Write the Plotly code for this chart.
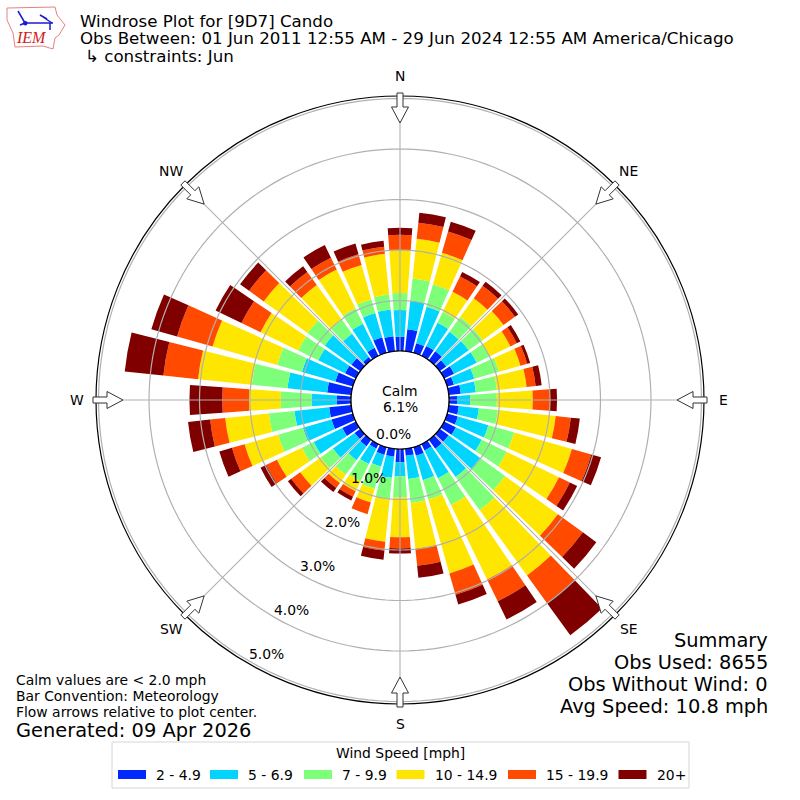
import numpy as np
import plotly.graph_objects as go

directions = list(range(0, 360, 10))
speed_labels = ["2 - 4.9", "5 - 6.9", "7 - 9.9", "10 - 14.9", "15 - 19.9", "20+"]
speed_colors = ["#0028ff", "#00d4ff", "#7dff7a", "#ffe600", "#ff4a00", "#800000"]

# percent of obs per direction, one list per speed bin
speed_2_5 = [.28, .44, .20, .22, .22, .16, .22, .14, .24, .16, .20, .22, .26, .22, .22, .14, .18, .14,
             .26, .16, .16, .10, .16, .14, .30, .44, .44, .28, .48, .36, .24, .22, .08, .18, .32, .30]
speed_5_7 = [.53, .57, .75, .51, .48, .55, .50, .42, .30, .26, .40, .63, .57, .77, .69, .61, .50, .46,
             .28, .42, .24, .34, .34, .53, .63, .59, .69, .50, .79, .69, .59, .65, .57, .53, .50, .53]
speed_7_10 = [.34, .44, .46, .24, .36, .34, .28, .51, .42, .53, .38, .53, .55, .61, .81, .59, .40, .48,
              .42, .42, .46, .38, .36, .30, .26, .51, .51, .61, .71, .51, .44, .42, .34, .34, .28, .30]
speed_10_15 = [.85, .79, .65, .44, .46, .51, .46, .44, .59, .71, 1.15, 1.19, 1.15, 1.29, 1.60, 1.64, 1.52, .91,
               .79, .85, .28, .22, .20, .50, .55, .69, .87, .63, 1.07, 1.33, .83, 1.07, .85, .85, .71, .81]
speed_15_20 = [.30, .32, .44, .34, .30, .28, .14, .14, .18, .34, .30, .40, .24, .61, .67, .48, .44, .34,
               .22, .18, .24, .12, .12, .22, .24, .26, .30, .53, .69, .73, .42, .36, .32, .26, .22, .14]
speed_20 = [.14, .20, .20, .10, .10, .08, .08, .06, .12, .14, .18, .20, .16, .33, .79, .40, .20, .24,
            .10, .18, .00, .08, .10, .08, .12, .26, .44, .65, .77, .53, .57, .22, .14, .28, .22, .12]
speed_series = [speed_2_5, speed_5_7, speed_7_10, speed_10_15, speed_15_20, speed_20]

radial_ticks = [0, 1, 2, 3, 4, 5]
radial_labels = ["0.0%", "1.0%", "2.0%", "3.0%", "4.0%", "5.0%"]
compass_angles = [0, 45, 90, 135, 180, 225, 270, 315]
compass_labels = ["N", "NE", "E", "SE", "S", "SW", "W", "NW"]
rmax = 5.05

FONT = "DejaVu Sans"


def px(x):
    return x / 800


def py(y):
    return 1 - y / 800


def note(text, x, y, size, anchor="left", color="black", family=FONT):
    # annotations carry about 2px of padding, take it back out
    if anchor == "left":
        x -= 2
    elif anchor == "right":
        x += 2
    return dict(text=text, x=px(x), y=py(y), xref="paper", yref="paper", showarrow=False,
                xanchor=anchor, yanchor="middle", font=dict(family=family, size=size, color=color))


fig = go.Figure()

for label, color, vals in zip(speed_labels, speed_colors, speed_series):
    fig.add_trace(go.Barpolar(r=vals, theta=directions, width=8.2, name=label,
                              marker=dict(color=color, line=dict(width=0)),
                              showlegend=False, hoverinfo="skip"))

# grid goes over the bars like the original, polar grid itself is always underneath
ring_theta = np.arange(0, 361, 2)
for t in radial_ticks:
    fig.add_trace(go.Scatterpolar(r=[t] * len(ring_theta), theta=ring_theta, mode="lines",
                                  line=dict(color="black" if t == 0 else "#b0b0b0", width=1.2),
                                  showlegend=False, hoverinfo="skip", cliponaxis=False))
for a in compass_angles:
    fig.add_trace(go.Scatterpolar(r=[0, rmax], theta=[a, a], mode="lines",
                                  line=dict(color="#b0b0b0", width=1.1),
                                  showlegend=False, hoverinfo="skip"))

shapes = []
annotations = []

# flow arrows on the rim, outlined and pointing at the center
arrow = [(-3, 307), (3, 307), (3, 293), (8.5, 293), (0, 277), (-8.5, 293), (-3, 293)]
for a, lab in zip(compass_angles, compass_labels):
    rad = np.radians(a)
    pts = []
    for w, r in arrow:
        x = 400 + r * np.sin(rad) + w * np.cos(rad)
        y = 400 - r * np.cos(rad) + w * np.sin(rad)
        pts.append(f"{px(x):.5f},{py(y):.5f}")
    shapes.append(dict(type="path", xref="paper", yref="paper", layer="above",
                       path="M" + " L".join(pts) + " Z", fillcolor="white",
                       line=dict(color="#333333", width=1)))
    annotations.append(note(lab, 400 + 323.5 * np.sin(rad), 400 - 323.5 * np.cos(rad), 13.9, "center"))

# radial labels sit off the ring, so place them by hand
for i, lab in enumerate(radial_labels):
    annotations.append(note(lab, 393.5 - 25.4 * i, 433.5 + 44 * i, 13.9, "center"))

annotations += [
    note("Calm", 400, 391, 13.9, "center"),
    note("6.1%", 400, 407, 13.9, "center"),
    note("Windrose Plot for [9D7] Cando", 80, 21.5, 16.67),
    note("Obs Between: 01 Jun 2011 12:55 AM - 29 Jun 2024 12:55 AM America/Chicago", 80, 38.5, 16.67),
    note("↳ constraints: Jun", 85, 56, 16.67),
    note("Summary", 768, 640, 19.4, "right"),
    note("Obs Used: 8655", 768, 662, 19.4, "right"),
    note("Obs Without Wind: 0", 768, 684, 19.4, "right"),
    note("Avg Speed: 10.8 mph", 768, 706, 19.4, "right"),
    note("Calm values are &lt; 2.0 mph", 16, 680, 13.9),
    note("Bar Convention: Meteorology", 16, 696, 13.9),
    note("Flow arrows relative to plot center.", 16, 712, 13.9),
    note("Generated: 09 Apr 2026", 16, 730, 19.4),
    note("Wind Speed [mph]", 400, 753, 13.9, "center"),
]

# legend box, matplotlib style wide swatches
shapes.append(dict(type="rect", xref="paper", yref="paper", layer="above",
                   x0=px(112), x1=px(689), y0=py(742), y1=py(788),
                   fillcolor="white", line=dict(color="#d6d6d6", width=1)))
swatch_left = [118, 210, 304, 396.5, 508, 618.5]
for x0, color, label in zip(swatch_left, speed_colors, speed_labels):
    shapes.append(dict(type="rect", xref="paper", yref="paper", layer="above",
                       x0=px(x0), x1=px(x0 + 28), y0=py(770), y1=py(779),
                       fillcolor=color, line=dict(width=0)))
    annotations.append(note(label, x0 + 38, 774.5, 13.9))

# IEM logo, rough outline of Iowa with the wind barb
iowa = [(7, 8), (55, 7), (57, 15), (65, 25), (59, 35), (55, 38), (53, 49), (43, 46), (15, 47), (13, 33), (7, 20)]
shapes.append(dict(type="path", xref="paper", yref="paper", layer="above",
                   path="M" + " L".join(f"{px(x):.5f},{py(y):.5f}" for x, y in iowa) + " Z",
                   fillcolor="white", line=dict(color="#e88080", width=1)))
barb = [[(25, 23), (53, 23)], [(25, 23), (18, 11)], [(52, 23), (40, 15), (47, 19)], [(50, 23), (50, 30)], [(25, 23), (20, 25)]]
for seg in barb:
    shapes.append(dict(type="path", xref="paper", yref="paper", layer="above",
                       path="M" + " L".join(f"{px(x):.5f},{py(y):.5f}" for x, y in seg),
                       line=dict(color="#1a1ad0", width=1.5)))
shapes.append(dict(type="circle", xref="paper", yref="paper", layer="above",
                   x0=px(23), x1=px(27.5), y0=py(21), y1=py(25.5),
                   fillcolor="#1a1ad0", line=dict(width=0)))
annotations.append(note("<i>IEM</i>", 31, 38, 16, "center", "#d02020", "Liberation Serif"))

fig.update_layout(
    width=800,
    height=800,
    margin=dict(l=0, r=0, t=0, b=0),
    paper_bgcolor="white",
    font=dict(family=FONT, size=14, color="black"),
    showlegend=False,
    hovermode=False,
    shapes=shapes,
    annotations=annotations,
    polar=dict(
        domain=dict(x=[96 / 800, 704 / 800], y=[96 / 800, 704 / 800]),
        bgcolor="white",
        hole=49 / 304,
        barmode="stack",
        radialaxis=dict(range=[0, rmax], tickvals=radial_ticks, showticklabels=False, ticks="",
                        showline=False, showgrid=False),
        angularaxis=dict(rotation=90, direction="clockwise", thetaunit="degrees",
                         tickmode="array", tickvals=compass_angles, showticklabels=False, ticks="",
                         showgrid=False, showline=True, linecolor="black", linewidth=1.2),
    ),
)

fig.write_html("out.html", config={"displayModeBar": False},
               post_script="document.body.style.margin='0';")
